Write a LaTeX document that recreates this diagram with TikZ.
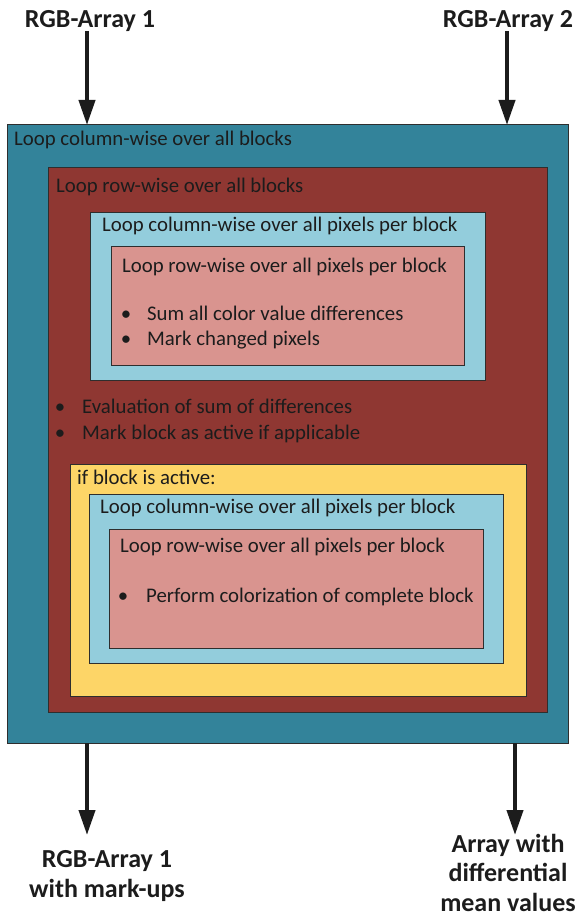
\documentclass[tikz,border=0pt]{standalone}
\usepackage{fontspec}
\setmainfont{Carlito}
\usetikzlibrary{arrows.meta}
\definecolor{tealc}{HTML}{33839A}
\definecolor{brownc}{HTML}{8F3732}
\definecolor{lbluec}{HTML}{93CDDC}
\definecolor{pinkc}{HTML}{D9948F}
\definecolor{yellowc}{HTML}{FDD567}
\definecolor{inkc}{HTML}{1C1C1C}
\definecolor{edgec}{HTML}{2E2E2E}
\tikzset{
  boxst/.style={draw=edgec, line width=1pt, anchor=north west, inner sep=0pt, outer sep=0pt},
  lbl/.style={anchor=base west, inner sep=0pt, text=inkc, font=\fontsize{20.8}{24}\selectfont},
  bul/.style={anchor=base, inner sep=0pt, text=inkc, font=\fontsize{20.8}{24}\selectfont},
  io/.style={inner sep=0pt, text=inkc, align=center, font=\bfseries\fontsize{26}{29.5}\selectfont},
  arr/.style={draw=inkc, line width=4pt, -{Triangle[length=25pt,width=16pt]}}
}
\begin{document}
\begin{tikzpicture}[x=1pt,y=-1pt]
\useasboundingbox (0,0) rectangle (580,920);
% boxes
\node[boxst, fill=tealc, minimum width=561pt, minimum height=618pt] (outer) at (7,125) {};
\node[boxst, fill=brownc, minimum width=499pt, minimum height=544pt] (rowb) at (48,168) {};
\node[boxst, fill=lbluec, minimum width=395pt, minimum height=168pt] (colp1) at (90,212) {};
\node[boxst, fill=pinkc, minimum width=353pt, minimum height=119pt] (rowp1) at (111,246) {};
\node[boxst, fill=yellowc, minimum width=456pt, minimum height=232pt] (ifb) at (70,464) {};
\node[boxst, fill=lbluec, minimum width=414pt, minimum height=169pt] (colp2) at (89,494) {};
\node[boxst, fill=pinkc, minimum width=374pt, minimum height=119pt] (rowp2) at (109,529) {};
% labels
\node[lbl] (outerT) at (14,146) {Loop column-wise over all blocks};
\node[lbl] (rowbT) at (56,193) {Loop row-wise over all blocks};
\node[lbl] (colp1T) at (102,231) {Loop column-wise over all pixels per block};
\node[lbl] (rowp1T) at (122,272) {Loop row-wise over all pixels per block};
\node[bul] (b1) at (126,320) {•};
\node[lbl] (b1T) at (147,320) {Sum all color value differences};
\node[bul] (b2) at (126,345) {•};
\node[lbl] (b2T) at (147,345) {Mark changed pixels};
\node[bul] (b3) at (60,413) {•};
\node[lbl] (b3T) at (82,413) {Evaluation of sum of differences};
\node[bul] (b4) at (60,439) {•};
\node[lbl] (b4T) at (82,439) {Mark block as active if applicable};
\node[lbl] (ifbT) at (77,484) {if block is active:};
\node[lbl] (colp2T) at (100,513) {Loop column-wise over all pixels per block};
\node[lbl] (rowp2T) at (120,552) {Loop row-wise over all pixels per block};
\node[bul] (b5) at (123,602) {•};
\node[lbl] (b5T) at (146,602) {Perform colorization of complete block};
% inputs / outputs
\node[io, anchor=base] (in1) at (90,28) {RGB-Array 1};
\node[io, anchor=base] (in2) at (508,28) {RGB-Array 2};
\node[io, anchor=base] (out1) at (107,897) {RGB-Array 1\\with mark-ups};
\node[io, anchor=base] (out2) at (508,911) {Array with\\differential\\mean values};
% arrow ends
\coordinate (in1s) at (87,31);
\coordinate (in1e) at (87,125);
\coordinate (in2s) at (507,31);
\coordinate (in2e) at (507,125);
\coordinate (out1s) at (87,743);
\coordinate (out1e) at (87,835);
\coordinate (out2s) at (515,743);
\coordinate (out2e) at (515,835);
\draw[arr] (in1s) -- (in1e);
\draw[arr] (in2s) -- (in2e);
\draw[arr] (out1s) -- (out1e);
\draw[arr] (out2s) -- (out2e);
\end{tikzpicture}
\end{document}
